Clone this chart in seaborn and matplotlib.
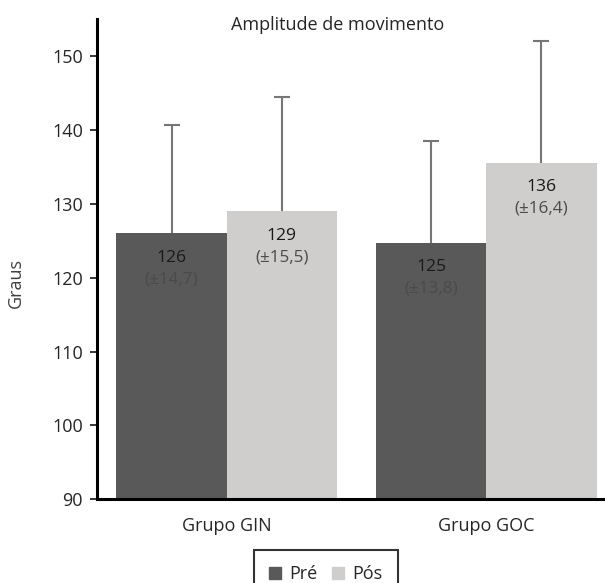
import pandas as pd
import matplotlib.pyplot as plt
import matplotlib.patches as mpatches
import seaborn as sns


# dados (médias e desvio padrão em graus)
grupos = ["Grupo GIN", "Grupo GOC"]
momentos = ["Pré", "Pós"]
media_pre = [126.0, 124.7]
media_pos = [129.0, 135.6]
dp_pre = [14.7, 13.8]
dp_pos = [15.5, 16.4]

cores = ["#595959", "#d0cecd"]

df = pd.DataFrame({
    "grupo": grupos * 2,
    "momento": [momentos[0]] * 2 + [momentos[1]] * 2,
    "media": media_pre + media_pos,
    "dp": dp_pre + dp_pos,
})

sns.set_style("white")
plt.rcParams["font.family"] = ["Open Sans", "DejaVu Sans"]
plt.rcParams["text.color"] = "#262626"

fig = plt.figure(figsize=(6.05, 5.83), dpi=100, facecolor="white")
ax = fig.add_axes([0.1603, 0.1436, 0.858, 0.8233])

sns.barplot(data=df, x="grupo", y="media", hue="momento", order=grupos,
            hue_order=momentos, palette=cores, width=0.85, saturation=1,
            errorbar=None, legend=False, linewidth=0, ax=ax)

# barras de erro só para cima + rótulos
for patch, (_, row) in zip(ax.patches, df.iterrows()):
    xc = patch.get_x() + patch.get_width() / 2
    topo = patch.get_height() + patch.get_y()
    eb = ax.errorbar(xc, topo, yerr=[[0], [row["dp"]]], fmt="none",
                     ecolor="#767676", elinewidth=1.5, capsize=6,
                     capthick=1.5, zorder=1)
    eb[1][0].set_visible(False)  # sem traço na base
    ax.annotate(f"{row['media']:.0f}", (xc, topo), xytext=(0, -17.5),
                textcoords="offset points", ha="center", va="center",
                fontsize=12.6, color="#1a1a1a")
    ax.annotate(f"(±{row['dp']:.1f})".replace(".", ","), (xc, topo),
                xytext=(0, -33), textcoords="offset points", ha="center",
                va="center", fontsize=12.3, color="#4a4a4a")

ax.set_ylim(90, 155)
ax.set_xlim(-0.5, 1.5)
ax.set_yticks(range(90, 151, 10))

for s in ["top", "right"]:
    ax.spines[s].set_visible(False)
for s in ["left", "bottom"]:
    ax.spines[s].set_linewidth(2.2)
    ax.spines[s].set_color("black")

ax.tick_params(axis="y", left=True, length=5, width=1.3, pad=5,
               labelsize=13, labelcolor="#262626")
ax.tick_params(axis="x", bottom=False, pad=9, labelsize=13,
               labelcolor="#262626")

ax.set_xlabel("")
ax.set_ylabel("Graus", fontsize=13, color="#404040")
ax.yaxis.set_label_coords(-0.138, 0.45)

fig.text(338 / 605, 1 - 25 / 583, "Amplitude de movimento",
         ha="center", va="center", fontsize=13)

handles = [mpatches.Patch(color=c, label=m) for c, m in zip(cores, momentos)]
leg = fig.legend(handles=handles, loc="upper left",
                 bbox_to_anchor=(254 / 605, 1 - 550 / 583), ncol=2,
                 frameon=True, fancybox=False, fontsize=13,
                 handlelength=0.66, handleheight=0.66, handletextpad=0.44,
                 columnspacing=0.83, borderpad=0.85, borderaxespad=0)
leg.get_frame().set_edgecolor("black")
leg.get_frame().set_linewidth(1.5)

fig.savefig("out.png", dpi=100)
